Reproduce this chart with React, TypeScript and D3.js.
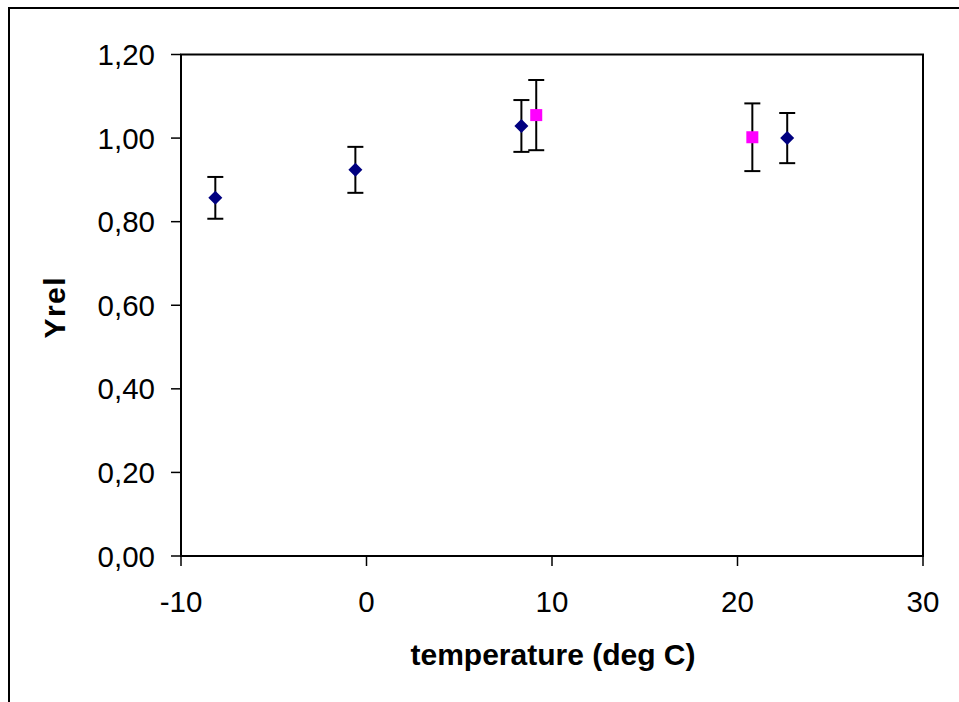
import React from "react";
import * as d3 from "d3";

const seriesA_x = [-8.15, -0.6, 8.35, 22.68];
const seriesA_y = [0.857, 0.924, 1.029, 1.0];
const seriesA_err = [0.05, 0.055, 0.062, 0.06];

const seriesB_x = [9.15, 20.8];
const seriesB_y = [1.055, 1.002];
const seriesB_err = [0.084, 0.081];

const xTicks = [-10, 0, 10, 20, 30];
const yTicks = [0, 0.2, 0.4, 0.6, 0.8, 1.0, 1.2];

const W = 959;
const H = 702;
const left = 181, right = 923, top = 54.5, bottom = 556;
const FONT = "'Liberation Sans', Arial, sans-serif";

export default function App() {
  const x = d3.scaleLinear().domain([-10, 30]).range([left, right]);
  const y = d3.scaleLinear().domain([0, 1.2]).range([bottom, top]);
  const fmt = (v: number) => v.toFixed(2).replace(".", ",");
  const cap = 8;

  const errBar = (cx: number, cy: number, e: number, key: string) => (
    <g key={key} stroke="#000" strokeWidth={2}>
      <line x1={x(cx)} x2={x(cx)} y1={y(cy + e)} y2={y(cy - e)} />
      <line x1={x(cx) - cap} x2={x(cx) + cap} y1={y(cy + e)} y2={y(cy + e)} />
      <line x1={x(cx) - cap} x2={x(cx) + cap} y1={y(cy - e)} y2={y(cy - e)} />
    </g>
  );

  return (
    <svg width={W} height={H} style={{ position: "absolute", left: 0, top: 0 }}>
      <rect x={0} y={0} width={W} height={H} fill="#fff" />
      <line x1={9} x2={9} y1={8} y2={H} stroke="#000" strokeWidth={2} />
      <line x1={8} x2={W} y1={8} y2={8} stroke="#000" strokeWidth={2} />
      <rect x={left} y={top} width={right - left} height={bottom - top} fill="#fff" stroke="#000" strokeWidth={2} />
      {xTicks.map((t) => (
        <g key={"x" + t}>
          <line x1={x(t)} x2={x(t)} y1={bottom} y2={bottom + 10} stroke="#000" strokeWidth={1.5} />
          <text x={x(t)} y={612} textAnchor="middle" fontFamily={FONT} fontSize={29.5} fill="#000">{t}</text>
        </g>
      ))}
      {yTicks.map((t) => (
        <g key={"y" + t}>
          <line x1={left - 10} x2={left} y1={y(t)} y2={y(t)} stroke="#000" strokeWidth={1.5} />
          <text x={155} y={y(t) + 10.5} textAnchor="end" fontFamily={FONT} fontSize={29.5} fill="#000">{fmt(t)}</text>
        </g>
      ))}
      {seriesA_x.map((v, i) => errBar(v, seriesA_y[i], seriesA_err[i], "ea" + i))}
      {seriesB_x.map((v, i) => errBar(v, seriesB_y[i], seriesB_err[i], "eb" + i))}
      {seriesA_x.map((v, i) => {
        const cx = x(v), cy = y(seriesA_y[i]), r = 7;
        return <path key={"a" + i} d={`M${cx},${cy - r}L${cx + r},${cy}L${cx},${cy + r}L${cx - r},${cy}Z`} fill="#000080" />;
      })}
      {seriesB_x.map((v, i) => (
        <rect key={"b" + i} x={x(v) - 6} y={y(seriesB_y[i]) - 6} width={12} height={12} fill="#ff00ff" />
      ))}
      <text x={(left + right) / 2 + 1} y={665} textAnchor="middle" fontFamily={FONT} fontSize={30} fontWeight="bold" fill="#000">temperature (deg C)</text>
      <text transform={`translate(65,${(top + bottom) / 2 + 2}) rotate(-90)`} textAnchor="middle" fontFamily={FONT} fontSize={30} fontWeight="bold" letterSpacing={1.5} fill="#000">Yrel</text>
    </svg>
  );
}
